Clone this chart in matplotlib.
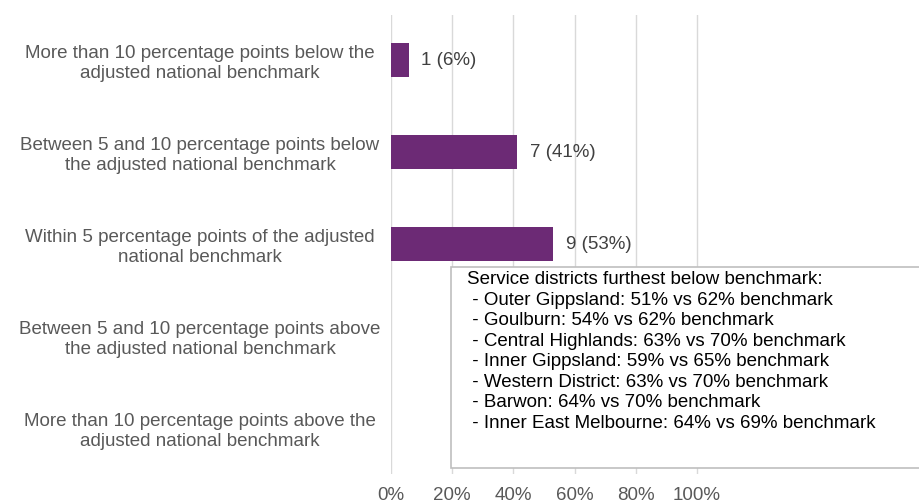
import matplotlib
matplotlib.use("Agg")
import matplotlib.pyplot as plt
from matplotlib.patches import Rectangle
from matplotlib.ticker import FuncFormatter

plt.rcParams['font.family'] = ['Liberation Sans', 'DejaVu Sans']

categories = [
    "More than 10 percentage points below the\nadjusted national benchmark",
    "Between 5 and 10 percentage points below\nthe adjusted national benchmark",
    "Within 5 percentage points of the adjusted\nnational benchmark",
    "Between 5 and 10 percentage points above\nthe adjusted national benchmark",
    "More than 10 percentage points above the\nadjusted national benchmark",
]
counts = [1, 7, 9, 0, 0]
total = 17
shares = [c / total for c in counts]
value_labels = ["1 (6%)", "7 (41%)", "9 (53%)", None, None]
x_ticks = [0, 0.2, 0.4, 0.6, 0.8, 1.0]

box_lines = [
    "Service districts furthest below benchmark:",
    " - Outer Gippsland: 51% vs 62% benchmark",
    " - Goulburn: 54% vs 62% benchmark",
    " - Central Highlands: 63% vs 70% benchmark",
    " - Inner Gippsland: 59% vs 65% benchmark",
    " - Western District: 63% vs 70% benchmark",
    " - Barwon: 64% vs 70% benchmark",
    " - Inner East Melbourne: 64% vs 69% benchmark",
]

FS = 13.5
W, H = 920, 503
fig = plt.figure(figsize=(W / 100, H / 100), dpi=100)
ax_left, ax_right, ax_top, ax_bot = 391, 920, 14.5, 474
ax = fig.add_axes([ax_left / W, 1 - ax_bot / H, (ax_right - ax_left) / W, (ax_bot - ax_top) / H])

bar_color = "#6c2a75"
ypos = list(range(len(categories)))
ax.barh(ypos, shares, height=0.37, color=bar_color, zorder=3)
ax.set_ylim(len(categories) - 0.5, -0.5)
ax.set_xlim(0, (ax_right - ax_left) / 306.0)

for y, s, lab in zip(ypos, shares, value_labels):
    if lab:
        ax.annotate(lab, xy=(s, y), xytext=(9, 0), textcoords="offset points",
                    va="center", ha="left", fontsize=FS, color="#404040", zorder=4)

ax.set_xticks(x_ticks)
ax.xaxis.set_major_formatter(FuncFormatter(lambda v, p: f"{v*100:.0f}%"))
ax.grid(axis="x", color="#d9d9d9", linewidth=1, zorder=0)
ax.set_axisbelow(True)
ax.set_yticks(ypos)
ax.set_yticklabels(categories, ha="center", multialignment="center", linespacing=1.22)
ax.tick_params(axis="y", length=0, pad=(391 - 200) * 0.72, labelsize=FS, labelcolor="#595959")
ax.tick_params(axis="x", length=0, pad=9, labelsize=FS, labelcolor="#595959")
for sp in ax.spines.values():
    sp.set_visible(False)

# annotation box
rect = Rectangle((451 / W, 1 - 468 / H), (980 - 451) / W, (468 - 267) / H,
                 transform=fig.transFigure, facecolor="white", edgecolor="#bfbfbf",
                 linewidth=1.2, zorder=5, clip_on=False)
fig.patches.append(rect)
fig.text(467 / W, 1 - 271 / H, "\n".join(box_lines), ha="left", va="top",
         fontsize=FS, color="black", linespacing=1.27, zorder=6)

fig.savefig("out.png", dpi=100)
